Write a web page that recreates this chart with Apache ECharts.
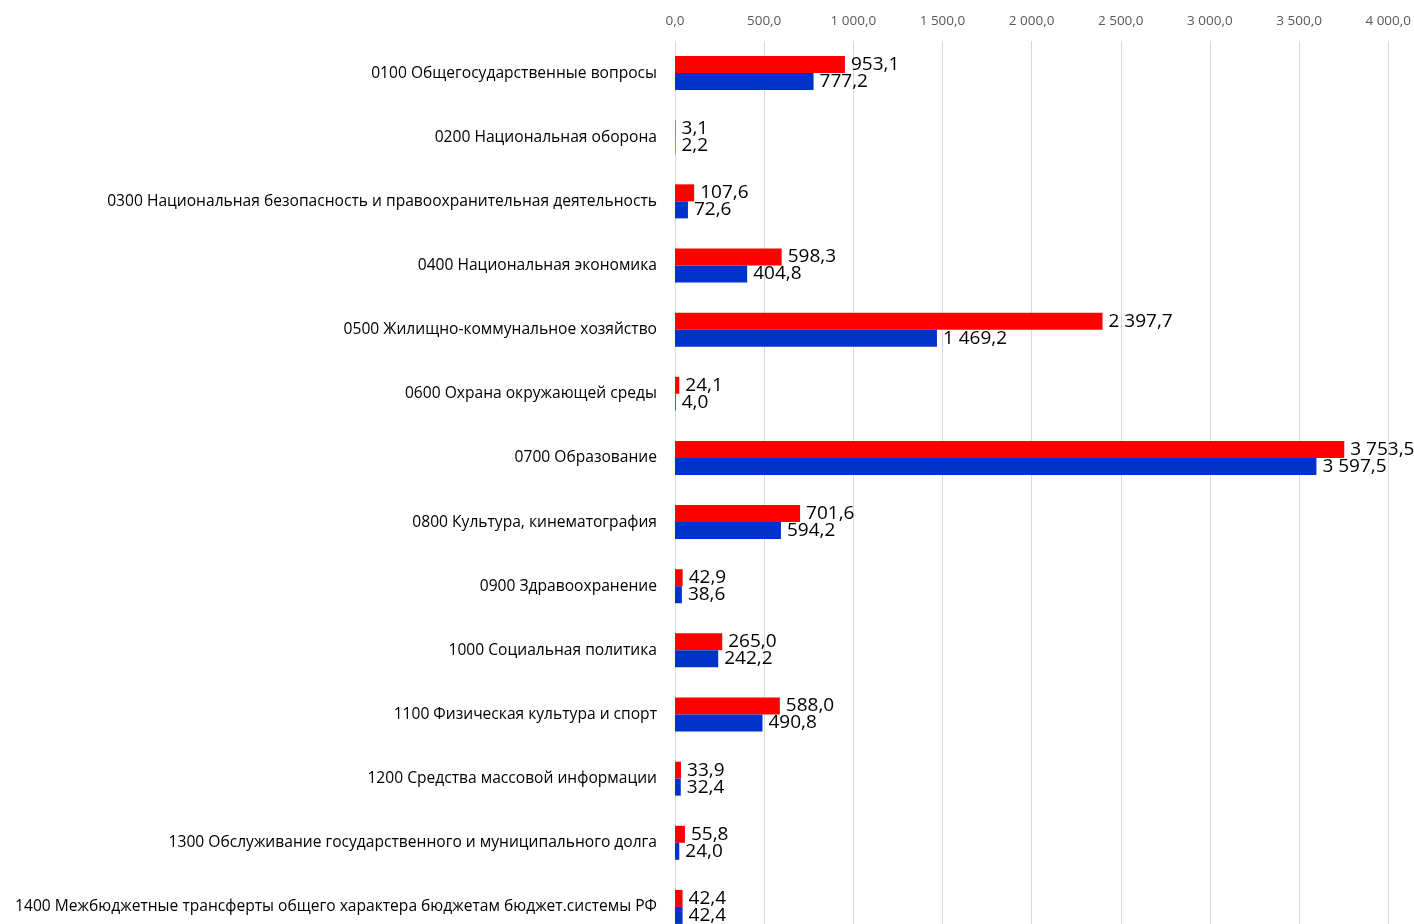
<!DOCTYPE html>
<html>
<head>
<meta charset="utf-8">
<script src="https://cdn.jsdelivr.net/npm/echarts@6/dist/echarts.min.js"></script>
<style>
  html, body { margin: 0; padding: 0; background: #fff; overflow: hidden; }
  /* нижняя строка в оригинале обрезана краем картинки */
  #chart { width: 1414px; height: 940px; }
</style>
</head>
<body>
<div id="chart"></div>
<script>
// разделы бюджета
const categories = [
  '0100 Общегосударственные вопросы',
  '0200 Национальная оборона',
  '0300 Национальная безопасность и правоохранительная деятельность',
  '0400 Национальная экономика',
  '0500 Жилищно-коммунальное хозяйство',
  '0600 Охрана окружающей среды',
  '0700 Образование',
  '0800 Культура, кинематография',
  '0900 Здравоохранение',
  '1000 Социальная политика',
  '1100 Физическая культура и спорт',
  '1200 Средства массовой информации',
  '1300 Обслуживание государственного и муниципального долга',
  '1400 Межбюджетные трансферты общего характера бюджетам бюджет.системы РФ'
];
// красные столбцы (верхние)
const redValues = [953.1, 3.1, 107.6, 598.3, 2397.7, 24.1, 3753.5, 701.6, 42.9, 265.0, 588.0, 33.9, 55.8, 42.4];
// синие столбцы (нижние)
const blueValues = [777.2, 2.2, 72.6, 404.8, 1469.2, 4.0, 3597.5, 594.2, 38.6, 242.2, 490.8, 32.4, 24.0, 42.4];
// шкала
const axisMin = 0;
const axisMax = 4000;
const axisStep = 500;

// 1469.2 -> "1 469,2"
function fmt(v) {
  let s = Number(v).toFixed(1).split('.');
  let int = s[0].replace(/\B(?=(\d{3})+(?!\d))/g, ' ');
  return int + ',' + s[1];
}

const chart = echarts.init(document.getElementById('chart'));

const labelStyle = {
  show: true,
  position: 'right',
  distance: 6,
  color: '#000',
  fontFamily: 'Open Sans',
  fontSize: 19,
  formatter: (p) => fmt(p.value)
};

chart.setOption({
  animation: false,
  grid: {
    left: 675,
    width: 715,
    top: 41,
    height: 898
  },
  xAxis: {
    type: 'value',
    position: 'top',
    min: axisMin,
    max: axisMax,
    interval: axisStep,
    axisLine: { show: false },
    axisTick: { show: false },
    axisLabel: {
      color: '#595959',
      fontFamily: 'Open Sans',
      fontSize: 13.5,
      margin: 13,
      formatter: (v) => fmt(v)
    },
    splitLine: { lineStyle: { color: '#d9d9d9', width: 1 } }
  },
  yAxis: {
    type: 'category',
    inverse: true,
    data: categories,
    axisLine: { show: false },
    axisTick: { show: false },
    axisLabel: {
      color: '#000',
      fontFamily: 'Open Sans',
      fontSize: 15.6,
      margin: 18
    }
  },
  series: [
    {
      name: 'red',
      type: 'bar',
      data: redValues,
      barWidth: 17,
      barGap: '0%',
      itemStyle: { color: '#ff0000' },
      label: labelStyle
    },
    {
      name: 'blue',
      type: 'bar',
      data: blueValues,
      barWidth: 17,
      barGap: '0%',
      itemStyle: { color: '#0033cc' },
      label: labelStyle
    }
  ]
});
</script>
</body>
</html>
